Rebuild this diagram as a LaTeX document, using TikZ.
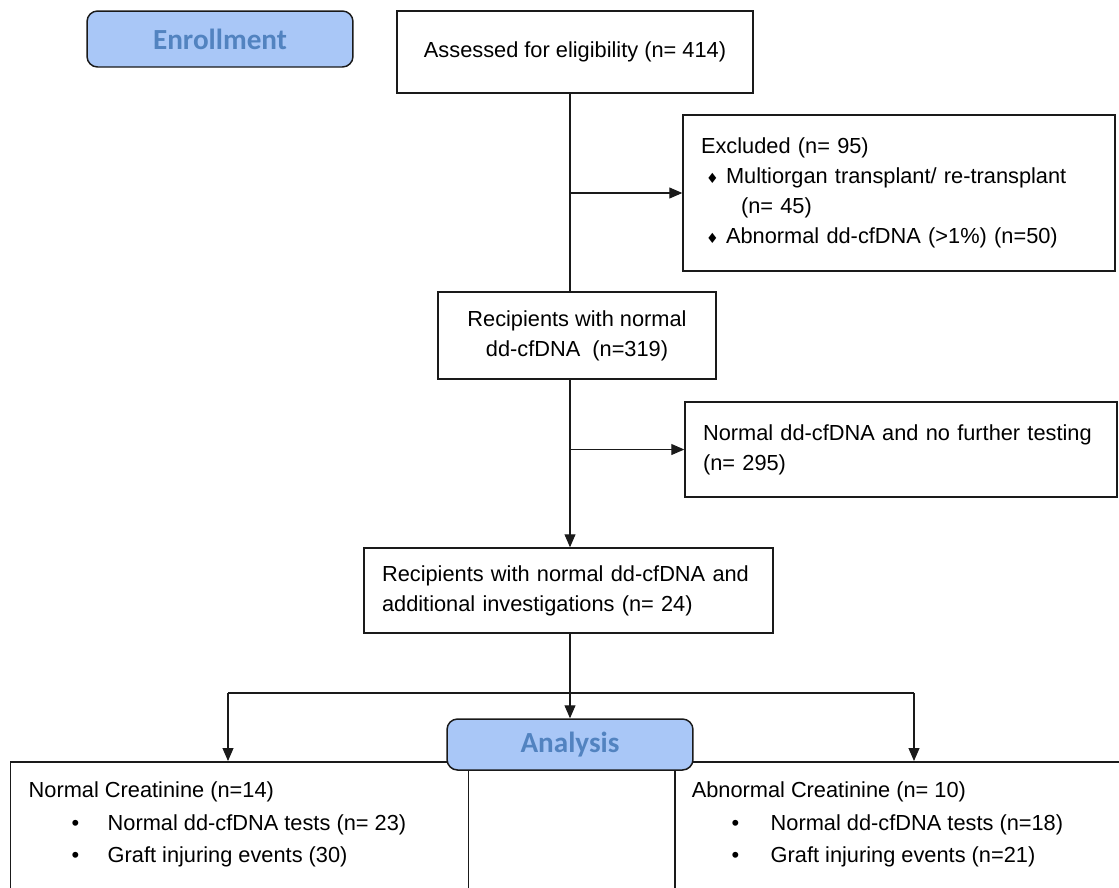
\documentclass[tikz,border=0pt]{standalone}
\usepackage{fontspec}
\setmainfont{Liberation Sans}
\newfontfamily\headfont{Carlito}
\newfontfamily\symfont{DejaVu Sans}
\usepackage{tikz}
\usetikzlibrary{arrows.meta}
\definecolor{FlowLine}{HTML}{1A1A1A}
\definecolor{HeadFill}{HTML}{A9C7F7}
\definecolor{HeadText}{HTML}{5283C0}
\newcommand{\dia}{{\symfont\fontsize{8}{8}\selectfont ♦}}

\begin{document}
\begin{tikzpicture}[x=0.02cm,y=-0.02cm,
  flowbox/.style={draw=FlowLine,line width=0.85pt,inner xsep=0.36cm,font=\fontsize{12.4}{17}\selectfont},
  headbox/.style={draw=FlowLine,line width=0.85pt,fill=HeadFill,rounded corners=6pt,text=HeadText,font=\headfont\bfseries\fontsize{16.6}{18}\selectfont},
  botbox/.style={draw=FlowLine,line width=0.85pt,inner sep=0pt,minimum width=9.16cm,minimum height=4cm,anchor=north west,font=\fontsize{12.4}{18.5}\selectfont},
  arr/.style={draw=FlowLine,line width=0.6pt,-{Triangle[length=2.6mm,width=2.2mm]}}]
\path[use as bounding box] (0,0) rectangle (1119,887);
\clip (0,0) rectangle (1119,887);
\node[headbox,minimum width=5.32cm,minimum height=1.12cm] (enroll) at (220,39) {Enrollment};
\node[flowbox,minimum width=7.12cm,minimum height=1.64cm] (assess) at (575,52) {Assessed for eligibility (n= 414)};
\node[flowbox,text width=7.92cm,minimum height=3.12cm,align=left] (excl) at (899,193)
  {Excluded (n= 95)\\
   \hspace*{0.1cm}\makebox[0.4cm][l]{\dia}Multiorgan transplant/ re-transplant\\
   \hspace*{0.8cm}(n= 45)\\
   \hspace*{0.1cm}\makebox[0.4cm][l]{\dia}Abnormal dd-cfDNA (>1\%) (n=50)};
\node[flowbox,minimum width=5.56cm,minimum height=1.74cm,align=center] (recip) at (577,335.5)
  {Recipients with normal\\ dd-cfDNA\ \ (n=319)};
\node[flowbox,text width=7.92cm,minimum height=1.90cm,align=left] (nofurther) at (901,449.5)
  {Normal dd-cfDNA and no further testing\\ (n= 295)};
\node[flowbox,text width=7.46cm,minimum height=1.70cm,align=left] (addl) at (568.5,590.5)
  {Recipients with normal dd-cfDNA and\\ additional investigations (n= 24)};
\node[botbox] (normcr) at (10,761) {\parbox[c][4cm][t]{8.44cm}{\vspace*{0.4cm}Normal Creatinine (n=14)\\
  \hspace*{0.86cm}\makebox[0.72cm][l]{\textbullet}Normal dd-cfDNA tests (n= 23)\\
  \hspace*{0.86cm}\makebox[0.72cm][l]{\textbullet}Graft injuring events (30)}};
\node[botbox] (abncr) at (674,761) {\parbox[c][4cm][t]{8.48cm}{\vspace*{0.4cm}Abnormal Creatinine (n= 10)\\
  \hspace*{0.8cm}\makebox[0.78cm][l]{\textbullet}Normal dd-cfDNA tests (n=18)\\
  \hspace*{0.8cm}\makebox[0.78cm][l]{\textbullet}Graft injuring events (n=21)}};
\node[headbox,minimum width=4.92cm,minimum height=1.02cm] (analysis) at (570,744.5) {Analysis};
\coordinate (lsplit) at (228,693);
\coordinate (rsplit) at (914,693);
\draw[FlowLine,line width=0.6pt] (assess.south -| analysis.north) -- (recip.north -| analysis.north);
\draw[arr] (excl.west -| analysis.north) -- (excl.west);
\draw[arr] (recip.south -| analysis.north) -- (addl.north -| analysis.north);
\draw[arr] (nofurther.west -| analysis.north) -- (nofurther.west);
\draw[arr] (addl.south -| analysis.north) -- (analysis.north);
\draw[FlowLine,line width=0.6pt] (lsplit) -- (rsplit);
\draw[arr] (lsplit) -- (lsplit |- normcr.north);
\draw[arr] (rsplit) -- (rsplit |- abncr.north);
\end{tikzpicture}
\end{document}
